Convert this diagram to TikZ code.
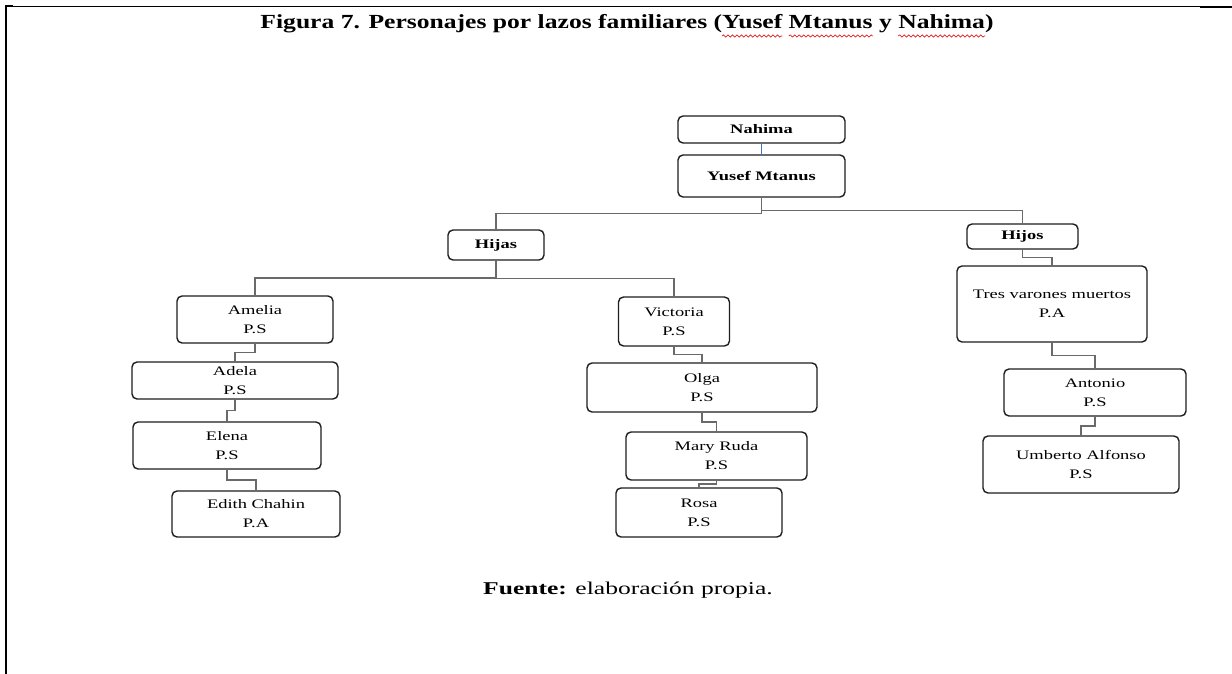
\documentclass[tikz,border=0pt]{standalone}
\usepackage{fontspec}
\usetikzlibrary{calc,decorations.pathmorphing}
% Times-metric serif, widened as in the printed figure
\newfontfamily\titlefont[FakeStretch=1.28]{Liberation Serif}
\newfontfamily\boxfont[FakeStretch=1.42]{Liberation Serif}
\definecolor{linkgray}{HTML}{6A6A6A}
\definecolor{linkblue}{HTML}{4A72B8}
\definecolor{boxline}{HTML}{1E1E1E}
\definecolor{spellred}{HTML}{E02020}
% red wavy underline below a word
\newsavebox\wavebox
\newcommand\redwave[1]{\sbox\wavebox{#1}%
  \tikz[overlay,baseline=0pt]\draw[spellred,line width=0.7pt,decorate,
    decoration={snake,amplitude=1.1pt,segment length=4.5pt}]
    (0pt,-7pt) -- (\the\wd\wavebox,-7pt);%
  \usebox\wavebox}
\begin{document}
\begin{tikzpicture}[x=1pt,y=-1pt,
  every node/.style={inner sep=0pt, outer sep=0pt},
  person/.style={draw=boxline, line width=1.4pt, rounded corners=5pt, fill=white,
    align=center, font=\boxfont\fontsize{13}{19}\selectfont},
  head/.style={person, font=\boxfont\bfseries\fontsize{13}{19}\selectfont},
  link/.style={draw=linkgray, line width=1.1pt},
  elbow/.style={to path={(\tikztostart) |- ($(\tikztostart)!0.5!(\tikztotarget)$) -| (\tikztotarget)}}
]
\useasboundingbox (0,0) rectangle (1232,674);
\fill[white] (0,0) rectangle (1232,674);

% frame of the page cell
\fill[black] (5,5) rectangle (7.3,674);
\draw[black, line width=1pt] (6,6.3) -- (1200,6.3);
\fill[black] (5,5) rectangle (13,7.2);
\fill[black] (1200,6) rectangle (1232,7.8);

% title and source
\node[font=\titlefont\bfseries\fontsize{20}{24}\selectfont, anchor=base] (title) at (627,29)
  {Figura 7. Personajes por lazos familiares (\redwave{Yusef} \redwave{Mtanus} y \redwave{Nahima})};
\node[font=\boxfont\fontsize{18}{22}\selectfont, anchor=base] (source) at (628,594)
  {\textbf{Fuente:} elaboración propia.};

% parents
\node[head, minimum width=167pt, minimum height=27pt] (nahima) at (761.5,129.5) {Nahima};
\node[head, minimum width=167pt, minimum height=42pt] (yusef) at (761.5,176) {Yusef Mtanus};

% groups
\node[head, minimum width=96pt, minimum height=30pt] (hijas) at (496,245) {Hijas};
\node[head, minimum width=111pt, minimum height=25pt] (hijos) at (1022.5,236.5) {Hijos};

% daughters, first branch
\node[person, minimum width=156pt, minimum height=47pt] (amelia) at (255,319.5) {Amelia\\P.S};
\node[person, minimum width=206pt, minimum height=37pt] (adela) at (235,380.5) {Adela\\P.S};
\node[person, minimum width=188pt, minimum height=47pt] (elena) at (227,445.5) {Elena\\P.S};
\node[person, minimum width=168pt, minimum height=46pt] (edith) at (256,514) {Edith Chahin\\P.A};

% daughters, second branch
\node[person, minimum width=111pt, minimum height=49pt] (victoria) at (674,321.5) {Victoria\\P.S};
\node[person, minimum width=230pt, minimum height=49pt] (olga) at (702,387.5) {Olga\\P.S};
\node[person, minimum width=181pt, minimum height=48pt] (mary) at (716.5,456) {Mary Ruda\\P.S};
\node[person, minimum width=166pt, minimum height=49pt] (rosa) at (699,512.5) {Rosa\\P.S};

% sons
\node[person, minimum width=190pt, minimum height=76pt] (tres) at (1052,304) {Tres varones muertos\\P.A};
\node[person, minimum width=182pt, minimum height=47pt] (antonio) at (1095,392.5) {Antonio\\P.S};
\node[person, minimum width=196pt, minimum height=57pt] (umberto) at (1081,464.5) {Umberto Alfonso\\P.S};

% connectors
\draw[draw=linkblue, line width=1.3pt] (nahima.south) -- (yusef.north);
\draw[link] (yusef.south) to[elbow] (hijas.north);
\draw[link] (yusef.south) to[elbow] (hijos.north);
\draw[link] (hijas.south) to[elbow] (amelia.north);
\draw[link] (hijas.south) to[elbow] (victoria.north);
\draw[link] (amelia.south) to[elbow] (adela.north);
\draw[link] (adela.south) to[elbow] (elena.north);
\draw[link] (elena.south) to[elbow] (edith.north);
\draw[link] (victoria.south) to[elbow] (olga.north);
\draw[link] (olga.south) to[elbow] (mary.north);
\draw[link] (mary.south) to[elbow] (rosa.north);
\draw[link] (hijos.south) to[elbow] (tres.north);
\draw[link] (tres.south) to[elbow] (antonio.north);
\draw[link] (antonio.south) to[elbow] (umberto.north);
\end{tikzpicture}
\end{document}
